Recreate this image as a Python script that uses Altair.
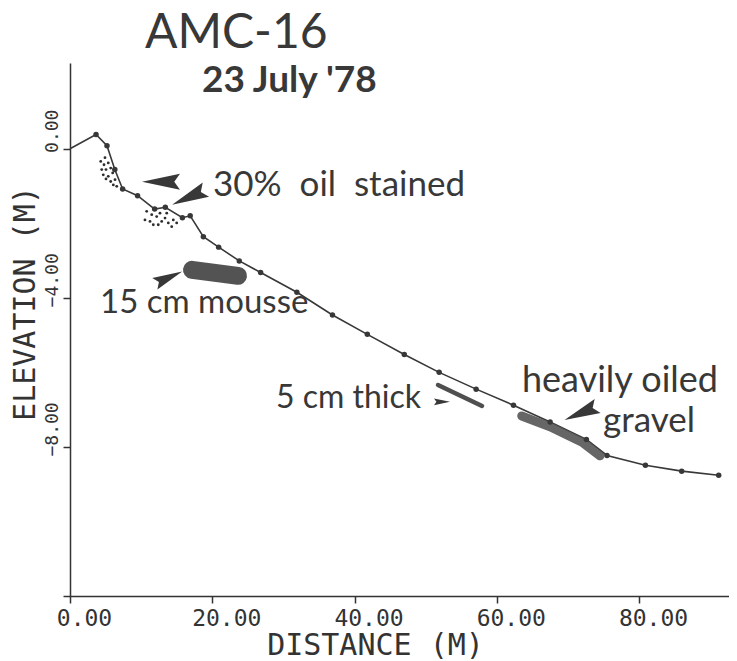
import altair as alt
import pandas as pd

# ---- beach profile (distance in m, elevation in m) ----
dist = [0, 3.66, 5.2, 6.3, 7.4, 9.5, 11.9, 13.4, 15.8, 16.9, 18.75, 20.9, 23.8, 26.8,
        31.9, 36.9, 41.8, 47.0, 51.9, 57.1, 62.35, 67.5, 72.6, 75.5, 80.9, 86.0, 91.2]
elev = [0, 0.38, 0.08, -0.56, -1.08, -1.26, -1.62, -1.57, -1.85, -1.80, -2.36, -2.64, -3.01, -3.32,
        -3.85, -4.46, -4.98, -5.52, -6.00, -6.45, -6.88, -7.33, -7.80, -8.23, -8.49, -8.65, -8.76]

# ---- oil stained sediment (stipple) ----
stain_x = [4.92, 4.32, 4.78, 5.38, 4.46, 5.06, 5.72, 4.68, 5.38, 6.00, 5.06, 5.72, 6.33, 6.09, 6.57,
           10.78, 11.49, 10.54, 11.25, 12.19, 12.65, 12.89, 13.36, 13.82, 14.52, 15.00, 11.71, 14.30, 12.41, 13.60]
stain_y = [-0.24, -0.34, -0.43, -0.38, -0.56, -0.56, -0.52, -0.70, -0.74, -0.65, -0.81, -0.88, -0.83, -0.97, -1.01,
           -1.68, -1.77, -1.91, -1.95, -1.82, -1.73, -1.95, -1.86, -1.99, -1.91, -1.99, -2.04, -2.09, -2.04, -1.73]

# ---- mousse, thick oil layer, oiled gravel ----
mousse_x = [17.15, 20.4, 23.62]
mousse_y = [-3.25, -3.33, -3.41]
thick_x = [51.74, 57.93]
thick_y = [-6.34, -6.90]
gravel_x = [63.51, 67.49, 72.13, 74.52]
gravel_y = [-7.17, -7.46, -7.89, -8.24]

# ---- axes ----
x_ticks = [0, 20, 40, 60, 80]
y_ticks = [-12, -8, -4, 0]
x_domain = [0, 92.65]
y_domain = [-12, 2.3]

# ---- text ----
head_text = ["AMC-16", "23 July '78"]
head_x = [10.54, 18.56]
head_y = [2.71, 1.53]
head_size = [48, 37]

note_text = ["30%\u00a0\u00a0oil\u00a0\u00a0stained", "15 cm mousse", "5 cm\u00a0thick",
             "heavily oiled", "gravel"]
note_x = [20.1, 4.22, 28.96, 63.55, 74.94]
note_y = [-1.26, -4.40, -6.95, -6.52, -7.60]
note_size = [35, 33, 32, 36, 35]

# ---- arrows (centre, direction, length) ----
arrow_x = [12.79, 16.73, 13.85, 52.3, 71.85]
arrow_y = [-0.886, -1.30, -3.46, -6.79, -7.09]
arrow_angle = [0, 336, 156, 180, 337]
arrow_len = [38, 37, 30, 16, 36]

INK = "#383838"
DART = "M -1 0 L 1 -0.42 L 0.7 0 L 1 0.42 Z"

profile = pd.DataFrame({"i": range(len(dist)), "d": dist, "e": elev})
stain = pd.DataFrame({"d": stain_x, "e": stain_y})
mousse = pd.DataFrame({"i": range(len(mousse_x)), "d": mousse_x, "e": mousse_y})
thick = pd.DataFrame({"i": range(len(thick_x)), "d": thick_x, "e": thick_y})
gravel = pd.DataFrame({"i": range(len(gravel_x)), "d": gravel_x, "e": gravel_y})
heads = pd.DataFrame({"t": head_text, "d": head_x, "e": head_y, "fs": head_size})
notes = pd.DataFrame({"t": note_text, "d": note_x, "e": note_y, "fs": note_size})
arrows = pd.DataFrame({"d": arrow_x, "e": arrow_y, "ang": arrow_angle,
                       "sz": [v * v for v in arrow_len]})

label_font = "DejaVu Sans Mono"

X = alt.X("d:Q", scale=alt.Scale(domain=x_domain, nice=False, zero=False),
          axis=alt.Axis(values=x_ticks, format=".2f", title="DISTANCE  (M)",
                        labelFontSize=23, labelPadding=4, labelOffset=14, labelFlush=False,
                        titleFontSize=30, titleX=305, titleY=58, titleBaseline="alphabetic",
                        titleAlign="center"))
Y = alt.Y("e:Q", scale=alt.Scale(domain=y_domain, nice=False, zero=False),
          axis=alt.Axis(values=y_ticks,
                        labelExpr="datum.value == -12 ? '' : format(datum.value, '.2f')",
                        labelAngle=270, labelAlign="center", labelBaseline="alphabetic",
                        labelFontSize=18, labelPadding=6, labelOffset=-18, labelFlush=False,
                        title="ELEVATION  (M)", titleFontSize=30, titleAngle=270,
                        titleX=-36, titleY=240, titleAlign="center", titleBaseline="alphabetic"))

base_line = alt.Chart(profile).mark_line(color=INK, strokeWidth=1.6).encode(x=X, y=Y, order="i:Q")
points = alt.Chart(profile).transform_filter("datum.d > 0").mark_circle(
    color=INK, size=30, opacity=1).encode(x="d:Q", y="e:Q")

stipple = alt.Chart(stain).mark_circle(color="#2e2e2e", size=8, opacity=1).encode(x="d:Q", y="e:Q")

mousse_l = alt.Chart(mousse).mark_line(color="#4a4a4a", strokeWidth=18, strokeCap="round",
                                       opacity=0.95).encode(x="d:Q", y="e:Q", order="i:Q")
thick_l = alt.Chart(thick).mark_line(color="#4f4f4f", strokeWidth=4.5, strokeCap="round").encode(
    x="d:Q", y="e:Q", order="i:Q")
gravel_l = alt.Chart(gravel).mark_line(color="#555555", strokeWidth=9, strokeCap="round",
                                       opacity=0.9).encode(x="d:Q", y="e:Q", order="i:Q")

darts = alt.Chart(arrows).mark_point(shape=DART, filled=True, color=INK, opacity=1,
                                     strokeWidth=0).encode(
    x="d:Q", y="e:Q", angle=alt.Angle("ang:Q", scale=None), size=alt.Size("sz:Q", scale=None))

head_big = alt.Chart(heads).transform_filter("datum.fs > 40").mark_text(
    font="Lato", color=INK, align="left", baseline="alphabetic", fontWeight="normal").encode(
    x="d:Q", y="e:Q", text="t:N", size=alt.Size("fs:Q", scale=None))
head_small = alt.Chart(heads).transform_filter("datum.fs <= 40").mark_text(
    font="Lato", color=INK, align="left", baseline="alphabetic", fontWeight="bold").encode(
    x="d:Q", y="e:Q", text="t:N", size=alt.Size("fs:Q", scale=None))
note_t = alt.Chart(notes).mark_text(
    font="Lato", color=INK, align="left", baseline="alphabetic").encode(
    x="d:Q", y="e:Q", text="t:N", size=alt.Size("fs:Q", scale=None))

chart = alt.layer(
    base_line, stipple, mousse_l, thick_l, gravel_l, points, darts, head_big, head_small, note_t
).properties(
    width=659, height=533,
    autosize=alt.AutoSizeParams(type="none"),
    padding={"left": 62, "top": 55, "right": 0, "bottom": 64},
    background="white",
).configure_view(stroke=None).configure_axis(
    grid=False, domainColor="#333", domainWidth=1.5, tickColor="#333", tickWidth=1.5, tickSize=7,
    labelFont=label_font, labelColor="#333", titleFont=label_font, titleColor="#333",
    titleFontWeight="normal",
)

chart.save("out.html", embed_options={"renderer": "svg", "actions": False})
